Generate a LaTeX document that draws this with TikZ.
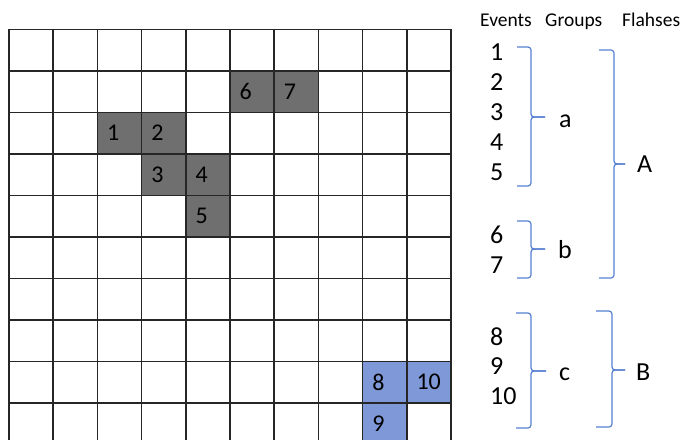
\documentclass[tikz,border=0pt]{standalone}
\usepackage{fontspec}
\setmainfont{Carlito}
\definecolor{cellgray}{HTML}{6F6F6F}
\definecolor{cellblue}{HTML}{7E98D8}
\definecolor{bracecol}{HTML}{5580D0}
\definecolor{gridcol}{HTML}{262626}
\newcommand\gcell[5]{%
  \fill[#3] ({9+44.2*#1},{29.3+41.5*#2}) rectangle ({9+44.2*(#1+1)},{29.3+41.5*(#2+1)});
  \node[cdigit,anchor=west] (#5) at ({9+44.2*#1+9.5},{29.3+41.5*(#2+0.5)}) {#4};}
\newcommand\bkt[7]{%
  \coordinate (#7t) at (#1,#3); \coordinate (#7b) at (#1,#5); \coordinate (#7p) at (#6,#4);
  \draw[bracestyle] (#7t) -- (#2,#3) -- (#2,#4) -- (#7p);
  \draw[bracestyle] (#7b) -- (#2,#5) -- (#2,#4) -- (#7p);}
\begin{document}
\begin{tikzpicture}[x=1pt,y=-1pt,
  cdigit/.style={inner sep=0pt,font=\fontsize{24}{24}\selectfont},
  digit/.style={inner sep=0pt,font=\fontsize{26}{26}\selectfont},
  head/.style={inner sep=0pt,anchor=base west,font=\fontsize{19.5}{19.5}\selectfont},
  glabel/.style={inner sep=0pt,anchor=base west,font=\fontsize{26}{26}\selectfont},
  gridline/.style={line width=1.5pt,draw=gridcol},
  bracestyle/.style={draw=bracecol,line width=1.2pt,rounded corners=3pt}]
\useasboundingbox (0,0) rectangle (682,439);
\begin{scope}
\clip (0,0) rectangle (682,439);
\gcell{2}{2}{cellgray}{1}{c1}
\gcell{3}{2}{cellgray}{2}{c2}
\gcell{3}{3}{cellgray}{3}{c3}
\gcell{4}{3}{cellgray}{4}{c4}
\gcell{4}{4}{cellgray}{5}{c5}
\gcell{5}{1}{cellgray}{6}{c6}
\gcell{6}{1}{cellgray}{7}{c7}
\gcell{8}{8}{cellblue}{8}{c8}
\gcell{9}{8}{cellblue}{10}{c10}
\gcell{8}{9}{cellblue}{9}{c9}
\foreach \i in {0,...,10} {
  \draw[gridline] ({9+44.2*\i},29.3) -- ({9+44.2*\i},445);
  \draw[gridline] (9,{29.3+41.5*\i}) -- (451,{29.3+41.5*\i});
}
\end{scope}
% headers
\node[head] (hE) at (480,26.7) {Events};
\node[head] (hG) at (545,26.7) {Groups};
\node[head] (hF) at (622,26.7) {Flahses};
% event list
\node[digit,anchor=west] (e1) at (490,52) {1};
\node[digit,anchor=west] (e2) at (490,82) {2};
\node[digit,anchor=west] (e3) at (490,112) {3};
\node[digit,anchor=west] (e4) at (490,142) {4};
\node[digit,anchor=west] (e5) at (490,172.5) {5};
\node[digit,anchor=west] (e6) at (490,235) {6};
\node[digit,anchor=west] (e7) at (490,265) {7};
\node[digit,anchor=west] (e8) at (490,337) {8};
\node[digit,anchor=west] (e9) at (490,366) {9};
\node[digit,anchor=west] (e10) at (490,396) {10};
% brackets
\bkt{517}{531}{47}{117}{186}{545}{ba}
\bkt{517}{531}{221}{249}{278}{545}{bb}
\bkt{516}{531}{313}{371}{428}{546}{bc}
\bkt{599}{614}{50}{164}{278}{625}{bA}
\bkt{596}{612}{311}{370}{427}{625}{bB}
% labels
\node[glabel] (la) at (559,127) {a};
\node[glabel] (lb) at (558,258) {b};
\node[glabel] (lc) at (559,380) {c};
\node[glabel] (lA) at (637,172) {A};
\node[glabel] (lB) at (636,380) {B};
\end{tikzpicture}
\end{document}
